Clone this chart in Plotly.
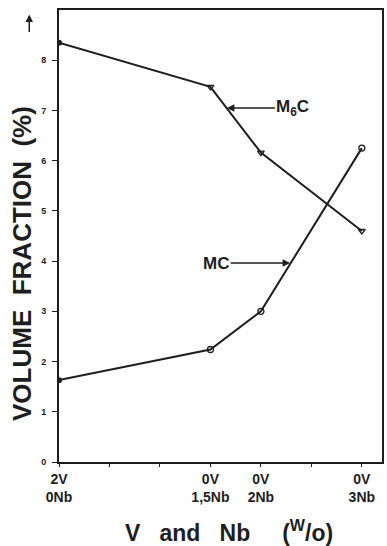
import plotly.graph_objects as go

# Nb content (wt%) used as the x position; labels give V and Nb levels
nb_content = [0, 1.5, 2, 3]
alloy_labels = ["2V<br>0Nb", "0V<br>1,5Nb", "0V<br>2Nb", "0V<br>3Nb"]

m6c_fraction = [8.35, 7.47, 6.16, 4.60]
mc_fraction = [1.63, 2.24, 3.00, 6.25]

y_ticks = [0, 1, 2, 3, 4, 5, 6, 7, 8]

INK = "#1e1e1e"
FONT = "Liberation Sans"

fig = go.Figure()

for vals, sym in [(m6c_fraction, "triangle-down-open"), (mc_fraction, "circle-open")]:
    fig.add_trace(go.Scatter(
        x=nb_content, y=vals, mode="lines",
        line=dict(color=INK, width=2), showlegend=False, hoverinfo="skip"))
    fig.add_trace(go.Scatter(
        x=nb_content[1:], y=vals[1:], mode="markers",
        marker=dict(symbol=sym, size=6, color=INK, line=dict(color=INK, width=1.3)),
        showlegend=False))
    fig.add_trace(go.Scatter(
        x=nb_content[:1], y=vals[:1], mode="markers",
        marker=dict(symbol="circle", size=6, color=INK),
        showlegend=False))

# x ticks every 0.5 wt%, labelled only at the alloy compositions
x_tickvals = [i * 0.5 for i in range(7)]
x_ticktext = [alloy_labels[nb_content.index(v)] if v in nb_content else "" for v in x_tickvals]

fig.update_xaxes(
    range=[0, 3.2], tickmode="array", tickvals=x_tickvals, ticktext=x_ticktext,
    ticks="outside", ticklen=3, tickcolor=INK, tickwidth=1.2,
    showline=True, linecolor=INK, linewidth=2, mirror=True,
    showgrid=False, zeroline=False,
    tickfont=dict(family=FONT, size=14, color=INK, weight="bold"),
)
fig.update_yaxes(
    range=[0, 9], tickmode="array", tickvals=y_ticks,
    ticks="outside", ticklen=5, tickcolor=INK, tickwidth=1.2,
    showline=True, linecolor=INK, linewidth=2, mirror=True,
    showgrid=False, zeroline=False, ticklabelstandoff=4,
    tickfont=dict(family=FONT, size=9, color=INK, weight="bold"),
)

annotations = [
    dict(x=1.663, y=7.05, xref="x", yref="y", text="M<sub>6</sub>C",
         showarrow=True, ax=66, ay=0, arrowhead=2, arrowsize=1, arrowwidth=1.5,
         arrowcolor=INK, font=dict(family=FONT, size=17, color=INK, weight="bold")),
    dict(x=2.29, y=3.96, xref="x", yref="y", text="MC",
         showarrow=True, ax=-74, ay=0, arrowhead=2, arrowsize=1, arrowwidth=1.5,
         arrowcolor=INK, font=dict(family=FONT, size=17, color=INK, weight="bold")),
    dict(x=-0.092, y=0.99, xref="paper", yref="paper", text="",
         showarrow=True, ax=0, ay=19, arrowhead=2, arrowsize=1, arrowwidth=1.5,
         arrowcolor=INK),
    dict(x=-0.115, y=0.44, xref="paper", yref="paper", text="VOLUME  FRACTION  (%)",
         textangle=-90, showarrow=False, xanchor="center", yanchor="middle",
         font=dict(family=FONT, size=26, color=INK, weight="bold")),
    dict(x=0.526, y=-0.152, xref="paper", yref="paper",
         text="V   and   Nb     (<sup>W</sup>/o)", showarrow=False,
         xanchor="center", yanchor="middle",
         font=dict(family=FONT, size=23, color=INK, weight="bold")),
]

fig.update_layout(
    width=387, height=546,
    margin=dict(l=59, r=3, t=10, b=84),
    paper_bgcolor="white", plot_bgcolor="white",
    annotations=annotations,
)

fig.write_html("out.html")
